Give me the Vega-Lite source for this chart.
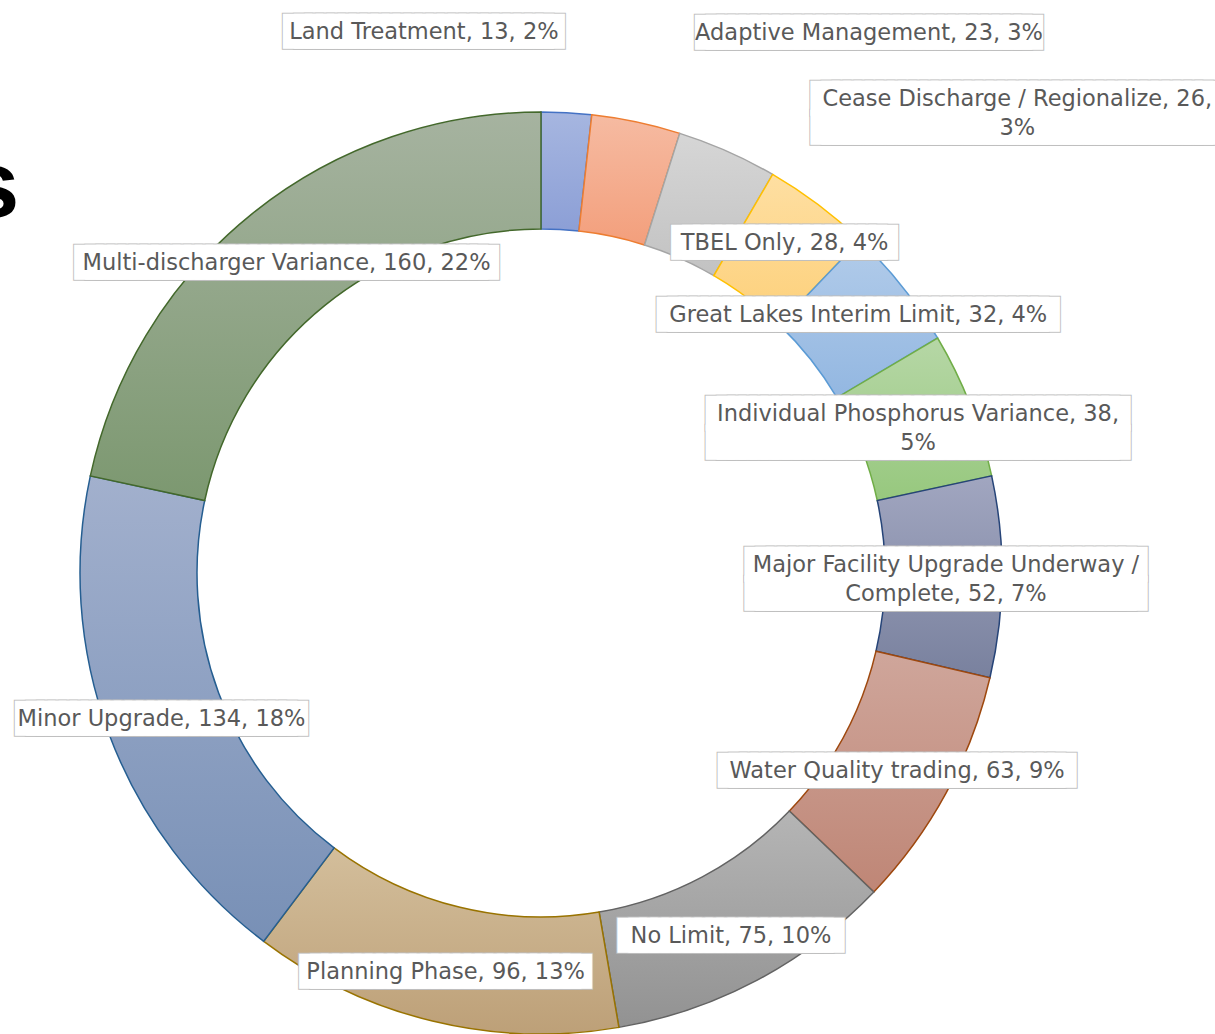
{
  "$schema": "https://vega.github.io/schema/vega-lite/v6.json",
  "width": 1082,
  "height": 922,
  "padding": {"left": 0, "top": 112, "right": 133, "bottom": 0},
  "autosize": {"type": "none"},
  "background": "white",
  "config": {"view": {"stroke": null}},
  "title": {
    "text": "s",
    "anchor": "start",
    "frame": "group",
    "orient": "top",
    "baseline": "alphabetic",
    "offset": 0,
    "dx": -33,
    "dy": 300,
    "fontSize": 94,
    "fontWeight": "bold",
    "font": "Liberation Sans",
    "color": "#000000"
  },
  "data": {
    "values": [
      {"i": 1, "cat": "Land Treatment", "n": 13, "label": "Land Treatment, 13, 2%"},
      {"i": 2, "cat": "Adaptive Management", "n": 23, "label": "Adaptive Management, 23, 3%"},
      {"i": 3, "cat": "Cease Discharge / Regionalize", "n": 26, "label": "Cease Discharge / Regionalize, 26,\n3%"},
      {"i": 4, "cat": "TBEL Only", "n": 28, "label": "TBEL Only, 28, 4%"},
      {"i": 5, "cat": "Great Lakes Interim Limit", "n": 32, "label": "Great Lakes Interim Limit, 32, 4%"},
      {"i": 6, "cat": "Individual Phosphorus Variance", "n": 38, "label": "Individual Phosphorus Variance, 38,\n5%"},
      {"i": 7, "cat": "Major Facility Upgrade Underway / Complete", "n": 52, "label": "Major Facility Upgrade Underway /\nComplete, 52, 7%"},
      {"i": 8, "cat": "Water Quality trading", "n": 63, "label": "Water Quality trading, 63, 9%"},
      {"i": 9, "cat": "No Limit", "n": 75, "label": "No Limit, 75, 10%"},
      {"i": 10, "cat": "Planning Phase", "n": 96, "label": "Planning Phase, 96, 13%"},
      {"i": 11, "cat": "Minor Upgrade", "n": 134, "label": "Minor Upgrade, 134, 18%"},
      {"i": 12, "cat": "Multi-discharger Variance", "n": 160, "label": "Multi-discharger Variance, 160, 22%"}
    ]
  },
  "encoding": {
    "theta": {"field": "n", "type": "quantitative", "stack": true},
    "order": {"field": "i", "type": "quantitative"}
  },
  "layer": [
    {
      "mark": {"type": "arc", "radius": 461, "radius2": 344, "strokeWidth": 1.5},
      "encoding": {
        "fill": {
          "condition": [
            {"test": "datum.cat == 'Land Treatment'", "value": {"gradient": "linear", "x1": 0, "y1": 0, "x2": 0, "y2": 1, "stops": [{"offset": 0, "color": "#A6B6E0"}, {"offset": 1, "color": "#8C9FD6"}]}},
            {"test": "datum.cat == 'Adaptive Management'", "value": {"gradient": "linear", "x1": 0, "y1": 0, "x2": 0, "y2": 1, "stops": [{"offset": 0, "color": "#F6BBA2"}, {"offset": 1, "color": "#F39F7C"}]}},
            {"test": "datum.cat == 'Cease Discharge / Regionalize'", "value": {"gradient": "linear", "x1": 0, "y1": 0, "x2": 0, "y2": 1, "stops": [{"offset": 0, "color": "#D6D6D6"}, {"offset": 1, "color": "#C2C2C2"}]}},
            {"test": "datum.cat == 'TBEL Only'", "value": {"gradient": "linear", "x1": 0, "y1": 0, "x2": 0, "y2": 1, "stops": [{"offset": 0, "color": "#FEDFA2"}, {"offset": 1, "color": "#FDD07A"}]}},
            {"test": "datum.cat == 'Great Lakes Interim Limit'", "value": {"gradient": "linear", "x1": 0, "y1": 0, "x2": 0, "y2": 1, "stops": [{"offset": 0, "color": "#B2CCEA"}, {"offset": 1, "color": "#93B7E1"}]}},
            {"test": "datum.cat == 'Individual Phosphorus Variance'", "value": {"gradient": "linear", "x1": 0, "y1": 0, "x2": 0, "y2": 1, "stops": [{"offset": 0, "color": "#B6D7A6"}, {"offset": 1, "color": "#97C87E"}]}},
            {"test": "datum.cat == 'Major Facility Upgrade Underway / Complete'", "value": {"gradient": "linear", "x1": 0, "y1": 0, "x2": 0, "y2": 1, "stops": [{"offset": 0, "color": "#A1A6C0"}, {"offset": 1, "color": "#79819E"}]}},
            {"test": "datum.cat == 'Water Quality trading'", "value": {"gradient": "linear", "x1": 0, "y1": 0, "x2": 0, "y2": 1, "stops": [{"offset": 0, "color": "#CFA69B"}, {"offset": 1, "color": "#BF8676"}]}},
            {"test": "datum.cat == 'No Limit'", "value": {"gradient": "linear", "x1": 0, "y1": 0, "x2": 0, "y2": 1, "stops": [{"offset": 0, "color": "#B5B5B5"}, {"offset": 1, "color": "#929292"}]}},
            {"test": "datum.cat == 'Planning Phase'", "value": {"gradient": "linear", "x1": 0, "y1": 0, "x2": 0, "y2": 1, "stops": [{"offset": 0, "color": "#D3BE9B"}, {"offset": 1, "color": "#BDA078"}]}},
            {"test": "datum.cat == 'Minor Upgrade'", "value": {"gradient": "linear", "x1": 0, "y1": 0, "x2": 0, "y2": 1, "stops": [{"offset": 0, "color": "#A2B0CD"}, {"offset": 1, "color": "#7890B6"}]}}
          ],
          "value": {"gradient": "linear", "x1": 0, "y1": 0, "x2": 0, "y2": 1, "stops": [{"offset": 0, "color": "#A6B3A0"}, {"offset": 1, "color": "#7C9870"}]}
        },
        "stroke": {
          "field": "cat",
          "type": "nominal",
          "legend": null,
          "sort": null,
          "scale": {
            "domain": ["Land Treatment", "Adaptive Management", "Cease Discharge / Regionalize", "TBEL Only", "Great Lakes Interim Limit", "Individual Phosphorus Variance", "Major Facility Upgrade Underway / Complete", "Water Quality trading", "No Limit", "Planning Phase", "Minor Upgrade", "Multi-discharger Variance"],
            "range": ["#4472C4", "#ED7D31", "#A5A5A5", "#FFC000", "#5B9BD5", "#70AD47", "#264478", "#9E480E", "#636363", "#997300", "#255E91", "#43682B"]
          }
        }
      }
    },
    {"mark": {"type": "text", "radius": 405, "dy": 5, "fontSize": 14.3, "font": "DejaVu Sans", "color": "white", "stroke": "#BFBFBF", "strokeWidth": 20, "strokeJoin": "miter"},
     "encoding": {"text": {"value": {"expr": "datum.i >= 8 ? pad('', length(datum.label) + 2, '█') : ''"}}}},
    {"mark": {"type": "text", "radius": 405, "dy": -6, "fontSize": 14.3, "font": "DejaVu Sans", "color": "white", "stroke": "#BFBFBF", "strokeWidth": 20, "strokeJoin": "miter"},
     "encoding": {"text": {"value": {"expr": "(datum.i == 4 || datum.i == 5) ? pad('', length(datum.label) + 2, '█') : ''"}}}},
    {"mark": {"type": "text", "radius": 405, "dy": -11, "fontSize": 14.3, "font": "DejaVu Sans", "color": "white", "stroke": "#BFBFBF", "strokeWidth": 20, "strokeJoin": "miter", "lineBreak": "\n", "lineHeight": 29},
     "encoding": {"text": {"value": {"expr": "(datum.i == 6 || datum.i == 7) ? pad('', max(indexof(datum.label,'\\n'), length(datum.label) - indexof(datum.label,'\\n') - 1) + 2, '█') + '\\n' + pad('', max(indexof(datum.label,'\\n'), length(datum.label) - indexof(datum.label,'\\n') - 1) + 2, '█') : ''"}}}},
    {"mark": {"type": "text", "radius": 542, "dx": -147, "fontSize": 14.3, "font": "DejaVu Sans", "color": "white", "stroke": "#BFBFBF", "strokeWidth": 20, "strokeJoin": "miter"},
     "encoding": {"text": {"value": {"expr": "datum.i == 1 ? pad('', length(datum.label) + 2, '█') : ''"}}}},
    {"mark": {"type": "text", "radius": 552, "dx": 214, "fontSize": 14.3, "font": "DejaVu Sans", "color": "white", "stroke": "#BFBFBF", "strokeWidth": 20, "strokeJoin": "miter"},
     "encoding": {"text": {"value": {"expr": "datum.i == 2 ? pad('', length(datum.label) + 3, '█') : ''"}}}},
    {"mark": {"type": "text", "radius": 503, "dx": 273, "dy": -14, "fontSize": 14.3, "font": "DejaVu Sans", "color": "white", "stroke": "#BFBFBF", "strokeWidth": 20, "strokeJoin": "miter", "lineBreak": "\n", "lineHeight": 29},
     "encoding": {"text": {"value": {"expr": "datum.i == 3 ? pad('', max(indexof(datum.label,'\\n'), length(datum.label) - indexof(datum.label,'\\n') - 1) + 2, '█') + '\\n' + pad('', max(indexof(datum.label,'\\n'), length(datum.label) - indexof(datum.label,'\\n') - 1) + 2, '█') : ''"}}}},

    {"mark": {"type": "text", "radius": 405, "dy": 5, "fontSize": 14.3, "font": "DejaVu Sans", "color": "white", "stroke": "white", "strokeWidth": 18, "strokeJoin": "miter"},
     "encoding": {"text": {"value": {"expr": "datum.i >= 8 ? pad('', length(datum.label) + 2, '█') : ''"}}}},
    {"mark": {"type": "text", "radius": 405, "dy": -6, "fontSize": 14.3, "font": "DejaVu Sans", "color": "white", "stroke": "white", "strokeWidth": 18, "strokeJoin": "miter"},
     "encoding": {"text": {"value": {"expr": "(datum.i == 4 || datum.i == 5) ? pad('', length(datum.label) + 2, '█') : ''"}}}},
    {"mark": {"type": "text", "radius": 405, "dy": -11, "fontSize": 14.3, "font": "DejaVu Sans", "color": "white", "stroke": "white", "strokeWidth": 18, "strokeJoin": "miter", "lineBreak": "\n", "lineHeight": 29},
     "encoding": {"text": {"value": {"expr": "(datum.i == 6 || datum.i == 7) ? pad('', max(indexof(datum.label,'\\n'), length(datum.label) - indexof(datum.label,'\\n') - 1) + 2, '█') + '\\n' + pad('', max(indexof(datum.label,'\\n'), length(datum.label) - indexof(datum.label,'\\n') - 1) + 2, '█') : ''"}}}},
    {"mark": {"type": "text", "radius": 542, "dx": -147, "fontSize": 14.3, "font": "DejaVu Sans", "color": "white", "stroke": "white", "strokeWidth": 18, "strokeJoin": "miter"},
     "encoding": {"text": {"value": {"expr": "datum.i == 1 ? pad('', length(datum.label) + 2, '█') : ''"}}}},
    {"mark": {"type": "text", "radius": 552, "dx": 214, "fontSize": 14.3, "font": "DejaVu Sans", "color": "white", "stroke": "white", "strokeWidth": 18, "strokeJoin": "miter"},
     "encoding": {"text": {"value": {"expr": "datum.i == 2 ? pad('', length(datum.label) + 3, '█') : ''"}}}},
    {"mark": {"type": "text", "radius": 503, "dx": 273, "dy": -14, "fontSize": 14.3, "font": "DejaVu Sans", "color": "white", "stroke": "white", "strokeWidth": 18, "strokeJoin": "miter", "lineBreak": "\n", "lineHeight": 29},
     "encoding": {"text": {"value": {"expr": "datum.i == 3 ? pad('', max(indexof(datum.label,'\\n'), length(datum.label) - indexof(datum.label,'\\n') - 1) + 2, '█') + '\\n' + pad('', max(indexof(datum.label,'\\n'), length(datum.label) - indexof(datum.label,'\\n') - 1) + 2, '█') : ''"}}}},

    {
      "mark": {"type": "text", "radius": 405, "dy": 5, "fontSize": 22.5, "font": "DejaVu Sans", "color": "#595959"},
      "encoding": {
        "text": {"condition": {"test": "datum.i >= 8", "field": "label"}, "value": ""}
      }
    },
    {
      "mark": {"type": "text", "radius": 405, "dy": -6, "fontSize": 22.5, "font": "DejaVu Sans", "color": "#595959"},
      "encoding": {
        "text": {"condition": {"test": "datum.i == 4 || datum.i == 5", "field": "label"}, "value": ""}
      }
    },
    {
      "mark": {"type": "text", "radius": 405, "dy": -11, "fontSize": 22.5, "font": "DejaVu Sans", "color": "#595959", "lineBreak": "\n", "lineHeight": 29},
      "encoding": {
        "text": {"condition": {"test": "datum.i == 6 || datum.i == 7", "field": "label"}, "value": ""}
      }
    },
    {
      "mark": {"type": "text", "radius": 542, "dx": -147, "fontSize": 22.5, "font": "DejaVu Sans", "color": "#595959"},
      "encoding": {
        "text": {"condition": {"test": "datum.i == 1", "field": "label"}, "value": ""}
      }
    },
    {
      "mark": {"type": "text", "radius": 552, "dx": 214, "fontSize": 22.5, "font": "DejaVu Sans", "color": "#595959"},
      "encoding": {
        "text": {"condition": {"test": "datum.i == 2", "field": "label"}, "value": ""}
      }
    },
    {
      "mark": {"type": "text", "radius": 503, "dx": 273, "dy": -14, "fontSize": 22.5, "font": "DejaVu Sans", "color": "#595959", "lineBreak": "\n", "lineHeight": 29},
      "encoding": {
        "text": {"condition": {"test": "datum.i == 3", "field": "label"}, "value": ""}
      }
    }
  ]
}
